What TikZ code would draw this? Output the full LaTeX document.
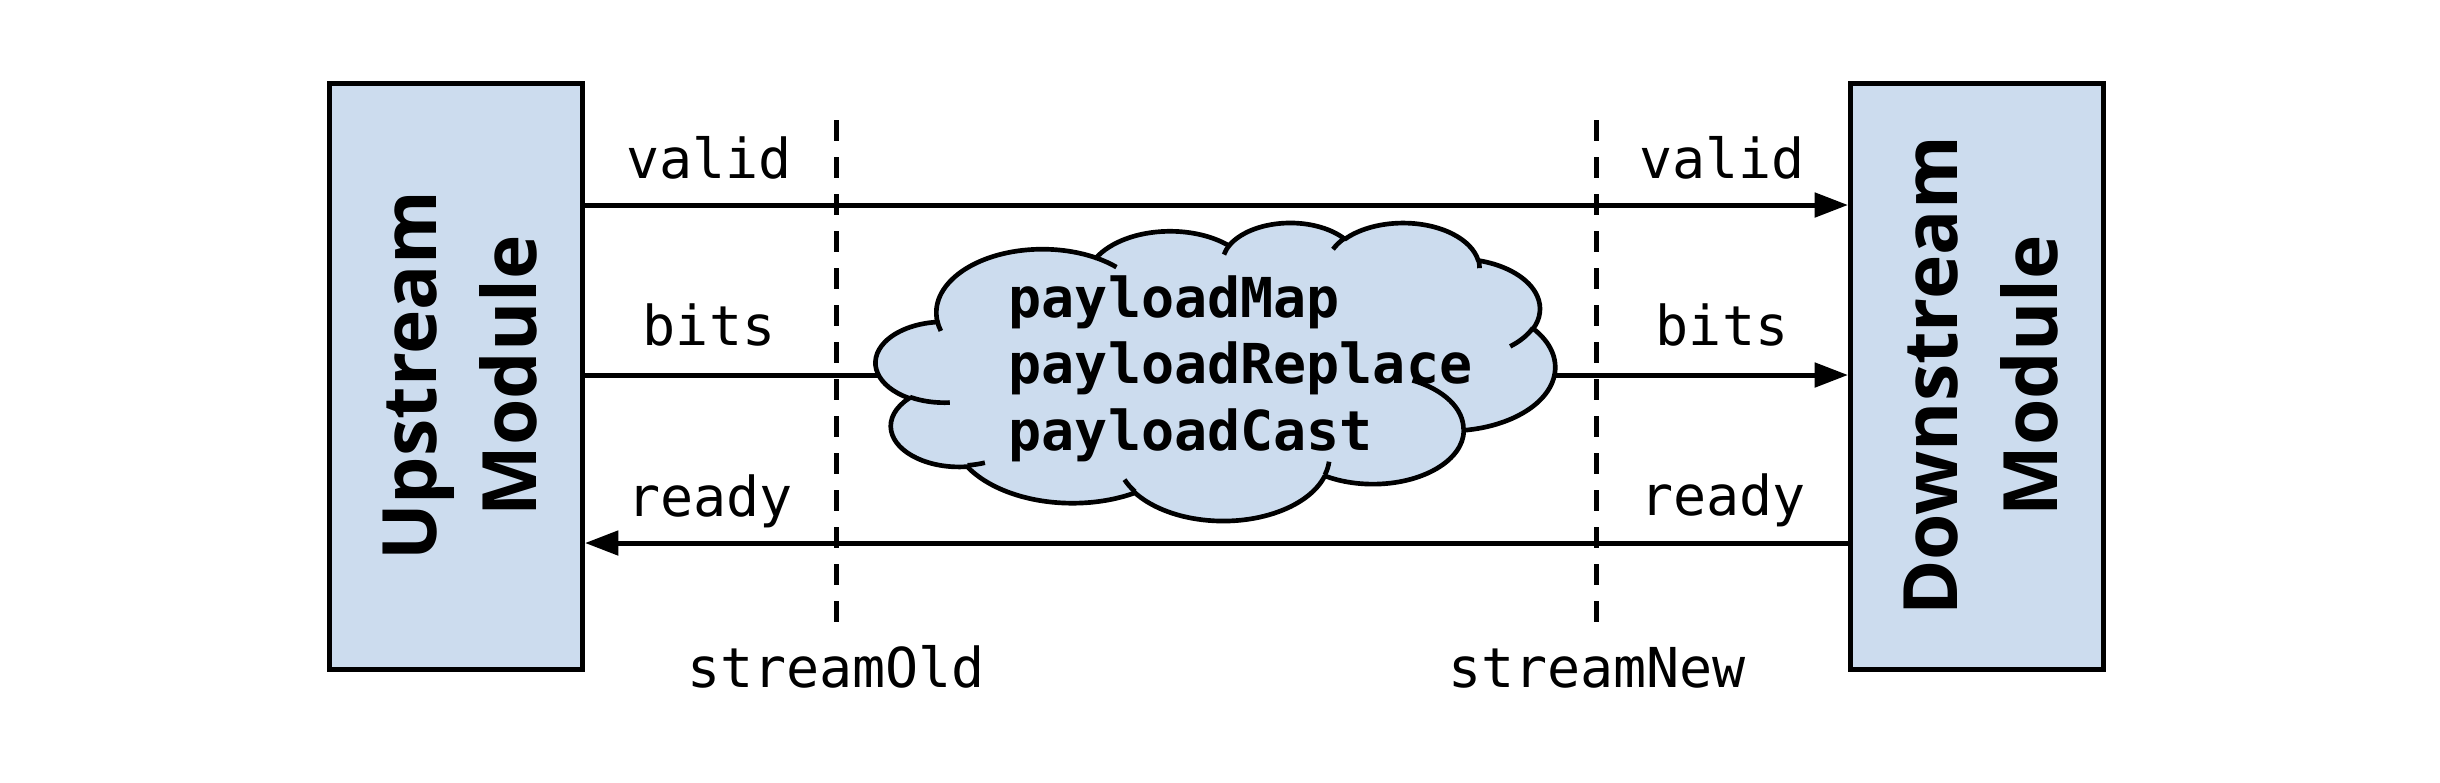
\documentclass[tikz,border=0pt]{standalone}
\usepackage{fontspec}
\setmonofont{DejaVu Sans Mono}
\setsansfont{Open Sans}
\usetikzlibrary{arrows.meta}
\definecolor{boxfill}{RGB}{204,220,238}
% OOXML-style arcTo: visual angles -> parametric angles
\newcommand\ooarccalc[4]{%
  \pgfmathsetmacro\ooA{#3}%
  \pgfmathsetmacro\ooB{(#3)+(#4)}%
  \pgfmathsetmacro\ooTa{atan2((#1)*sin(\ooA),(#2)*cos(\ooA))}%
  \pgfmathsetmacro\ooTa{(\ooTa)+360*round(((\ooA)-(\ooTa))/360)}%
  \pgfmathsetmacro\ooTb{atan2((#1)*sin(\ooB),(#2)*cos(\ooB))}%
  \pgfmathsetmacro\ooTb{(\ooTb)+360*round(((\ooB)-(\ooTb))/360)}%
  \pgfmathsetmacro\ooTd{(\ooTb)-(\ooTa)}%
  \global\let\cTa\ooTa
  \global\let\cTd\ooTd
}
\newcommand\oarc[4]{\pgfextra{\ooarccalc{#1}{#2}{#3}{#4}} arc[start angle=\cTa, delta angle=\cTd, x radius=#1, y radius=#2]}
\tikzset{
  modbox/.style={draw, line width=1.5pt, fill=boxfill, minimum width=75.9pt, minimum height=175.8pt, inner sep=0pt},
  modtext/.style={rotate=90, align=center, inner sep=0pt, font=\sffamily\bfseries\fontsize{22.5}{30}\selectfont},
  sig/.style={font=\ttfamily\fontsize{16.5}{20}\selectfont, anchor=base, inner sep=0pt},
  ctext/.style={font=\ttfamily\bfseries\fontsize{16.5}{20}\selectfont, anchor=base west, inner sep=0pt},
  wire/.style={line width=1.5pt},
  arr/.style={wire, -{Triangle[length=10pt, width=7.2pt]}},
  stream/.style={line width=1.5pt, dash pattern=on 6.3pt off 4.8pt},
  cloudline/.style={line width=1.4pt, line join=round},
}
\begin{document}
\begin{tikzpicture}[x=0.3pt, y=-0.3pt]
\useasboundingbox (0,0) rectangle (2440,782);

% modules
\node[modbox] (up) at (456,376) {};
\node[modbox] (down) at (1977,376) {};
\node[modtext] (uptext) at (460,376) {Upstream\\Module};
\node[modtext] (downtext) at (1981,376) {Downstream\\Module};

% cloud connection points
\coordinate (cl) at (880,375);
\coordinate (cr) at (1552,375);

% stream boundaries
\coordinate (so1) at (836,120);
\coordinate (so2) at (836,622);
\coordinate (sn1) at (1596,120);
\coordinate (sn2) at (1596,622);
\draw[stream] (so1) -- (so2);
\draw[stream] (sn1) -- (sn2);
\node[sig] (streamold) at (836,687) {streamOld};
\node[sig] (streamnew) at (1597,687) {streamNew};

% wires
\draw[arr] ([yshift=51.3pt]up.east) -- ([yshift=51.3pt]down.west);
\draw[wire] ([yshift=0.3pt]up.east) -- (cl);
\draw[arr] (cr) -- ([yshift=0.3pt]down.west);
\draw[arr] ([yshift=-50.1pt]down.west) -- ([yshift=-50.1pt]up.east);

% labels
\node[sig] (validL) at (709,178) {valid};
\node[sig] (bitsL) at (709,345) {bits};
\node[sig] (readyL) at (710,516) {ready};
\node[sig] (validR) at (1722,178) {valid};
\node[sig] (bitsR) at (1722,345) {bits};
\node[sig] (readyR) at (1723,515) {ready};

% cloud
\begin{scope}[shift={(876,222)}, x=0.0471528pt, y=-0.0206944pt]
\draw[cloudline, fill=boxfill] (390,1437)
  \oarc{675.3}{919.0}{-190.4875}{123.7805}
  \oarc{533.3}{726.7}{-144.1024}{89.9452}
  \oarc{436.5}{594.5}{-145.8079}{99.7230}
  \oarc{485.7}{659.5}{-130.9861}{117.2417}
  \oarc{533.3}{727.3}{-78.7089}{109.0269}
  \oarc{677.5}{922.0}{-46.2673}{130.2690}
  \oarc{578.5}{786.7}{0.6250}{114.0333}
  \oarc{675.2}{921.5}{22.4516}{115.1726}
  \oarc{772.0}{1054.3}{66.2426}{75.7110}
  \oarc{436.0}{591.8}{-274.9421}{146.7356}
  \oarc{434.5}{594.5}{-246.8285}{152.5189}
  -- cycle;
\draw[cloudline]
  (469.3,2617.7) \oarc{434.5}{594.5}{86.7420}{26.4295}
  (692.8,3489.9) \oarc{436.0}{591.8}{73.6105}{11.4475}
  (1647.8,3909.0) \oarc{675.2}{921.5}{137.6242}{14.0811}
  (2882.7,3475.1) \oarc{675.2}{921.5}{6.4533}{15.9984}
  (3412.9,2295.4) \oarc{578.5}{786.7}{-70.2924}{70.9174}
  (4179.8,1535.4) \oarc{533.3}{727.3}{30.3180}{27.7515}
  (3832.4,542.6) \oarc{485.7}{659.5}{-13.7443}{14.8589}
  (2907.8,395.2) \oarc{485.7}{659.5}{-149.1815}{18.1954}
  (2214.1,472.0) \oarc{436.5}{594.5}{-163.4943}{17.6864}
  (1400.0,519.2) \oarc{675.3}{919.0}{-66.7070}{12.3194}
  (412.7,1578.9) \oarc{675.3}{919.0}{157.6544}{11.8582};
\end{scope}
\node[ctext] (pm) at (1008,317) {payloadMap};
\node[ctext] (pr) at (1008,383) {payloadReplace};
\node[ctext] (pc) at (1008,450) {payloadCast};
\end{tikzpicture}
\end{document}
